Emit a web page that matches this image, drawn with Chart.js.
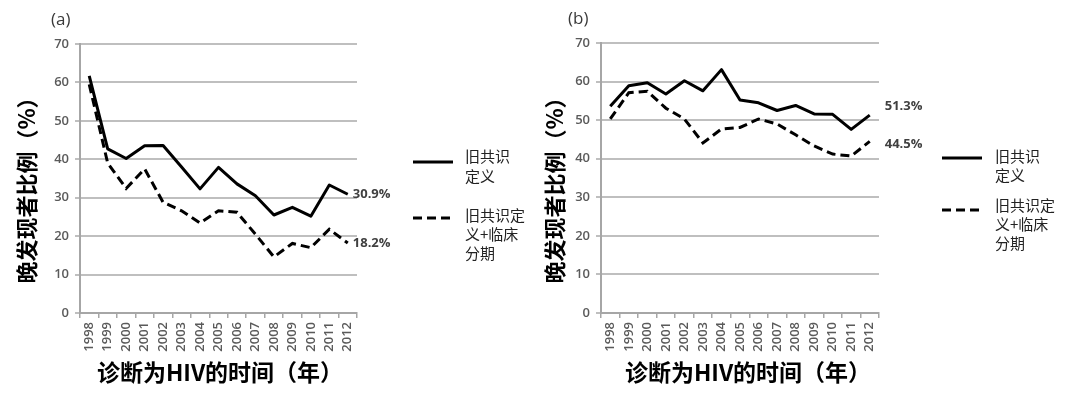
<!DOCTYPE html>
<html><head><meta charset="utf-8">
<script src="https://cdn.jsdelivr.net/npm/chart.js@4.4.0/dist/chart.umd.min.js"></script>
<style>
html,body{margin:0;padding:0;background:#fff;}
#wrap{position:relative;width:1070px;height:396px;overflow:hidden;background:#fff;}
.panel{position:absolute;top:0;width:535px;height:396px;}
canvas{display:block;}
</style></head><body>
<div id="wrap">
<div class="panel" style="left:0"><canvas id="ca" width="535" height="396"></canvas></div>
<div class="panel" style="left:535px"><canvas id="cb" width="535" height="396"></canvas></div>
</div>
<script>
// ---- data ----
const years = ['1998','1999','2000','2001','2002','2003','2004','2005','2006','2007','2008','2009','2010','2011','2012'];
const aOld     = [61.7,42.7,40.2,43.5,43.6,38.0,32.3,37.9,33.6,30.5,25.5,27.5,25.2,33.3,30.9];
const aOldClin = [59.5,39.0,32.4,37.5,28.8,26.6,23.4,26.6,26.2,20.5,14.6,18.1,17.0,21.8,18.2];
const bOld     = [53.6,58.9,59.7,56.8,60.2,57.6,63.1,55.2,54.5,52.5,53.8,51.6,51.5,47.6,51.3];
const bOldClin = [50.3,57.1,57.5,53.1,50.3,44.1,47.7,48.1,50.3,49.0,46.2,43.3,41.2,40.7,44.5];
const yTicks = [0,10,20,30,40,50,60,70];
const endLabelsA = ['30.9%','18.2%'];
const endLabelsB = ['51.3%','44.5%'];
const seriesNames = [['旧共识','定义'],['旧共识定','义+临床','分期']];
const yTitle = '晚发现者比例（%）';
const xTitle = '诊断为HIV的时间（年）';

// ---- decoration plugin ----
const decor = {
  id: 'decor',
  afterDraw(chart, args, o) {
    const ctx = chart.ctx;
    ctx.save();
    // panel tag
    ctx.fillStyle = '#3a3a3a';
    ctx.font = '17px "Open Sans"';
    ctx.textAlign = 'left';
    ctx.textBaseline = 'middle';
    ctx.fillText(o.tag, o.tagX, o.tagY);
    // y title
    ctx.save();
    ctx.translate(o.yTitleX, o.yTitleY);
    ctx.rotate(-Math.PI / 2);
    ctx.fillStyle = '#000';
    ctx.font = 'bold 22px "Noto Sans CJK SC"';
    ctx.textAlign = 'center';
    ctx.textBaseline = 'middle';
    ctx.fillText(yTitle, 0, 0);
    ctx.restore();
    // x title
    ctx.fillStyle = '#000';
    ctx.font = 'bold 23px "Noto Sans CJK SC"';
    ctx.textAlign = 'center';
    ctx.textBaseline = 'middle';
    ctx.fillText(xTitle, o.xTitleX, o.xTitleY);
    // end labels
    ctx.font = 'bold 13px "Open Sans"';
    ctx.fillStyle = '#404040';
    ctx.textAlign = 'left';
    chart.data.datasets.forEach((ds, i) => {
      const meta = chart.getDatasetMeta(i);
      const pt = meta.data[meta.data.length - 1];
      ctx.fillText(o.endLabels[i], pt.x + o.endDx, pt.y + o.endDy[i]);
    });
    // legend
    const L = o.legend;
    ctx.strokeStyle = '#000';
    ctx.lineWidth = 3;
    chart.data.datasets.forEach((ds, i) => {
      ctx.beginPath();
      ctx.setLineDash(ds.borderDash || []);
      ctx.moveTo(L.x1, L.lineY[i]);
      ctx.lineTo(L.x2[i], L.lineY[i]);
      ctx.stroke();
    });
    ctx.setLineDash([]);
    ctx.fillStyle = '#222';
    ctx.font = '15px "Noto Sans CJK SC"';
    ctx.textAlign = 'left';
    ctx.textBaseline = 'middle';
    seriesNames.forEach((lines, i) => {
      lines.forEach((t, j) => ctx.fillText(t, L.tx, L.textY[i] + j * L.lh[i]));
    });
    ctx.restore();
  }
};

function makeChart(id, old, oldClin, cfg) {
  const tickFont = { family: 'Open Sans', size: 13, weight: '600' };
  return new Chart(document.getElementById(id), {
    type: 'line',
    data: {
      labels: years,
      datasets: [
        { data: old, borderColor: '#000', borderWidth: 3, pointRadius: 0, tension: 0, borderJoinStyle: 'round', clip: false },
        { data: oldClin, borderColor: '#000', borderWidth: 3, pointRadius: 0, tension: 0, borderDash: [9, 5], clip: false }
      ]
    },
    options: {
      responsive: false,
      animation: false,
      events: [],
      layout: { padding: cfg.padding },
      plugins: {
        legend: { display: false },
        tooltip: { enabled: false },
        decor: cfg.decor
      },
      scales: {
        x: {
          type: 'category',
          offset: true,
          afterFit: s => { s.height = 83; },
          grid: { display: true, drawOnChartArea: false, drawTicks: true, tickLength: 5, color: '#a6a6a6', lineWidth: 1.5, offset: true },
          border: { display: true, color: '#a6a6a6', width: 2 },
          ticks: { minRotation: 90, maxRotation: 90, autoSkip: false, padding: 4, color: '#5a5a5a', font: tickFont }
        },
        y: {
          min: 0, max: 70,
          afterFit: s => { s.width = cfg.yWidth; },
          afterBuildTicks: s => { s.ticks = yTicks.map(v => ({ value: v })); },
          grid: { color: '#bfbfbf', lineWidth: 2, tickLength: 5, drawTicks: true },
          border: { display: true, color: '#a6a6a6', width: 2 },
          ticks: { padding: 6, color: '#5a5a5a', font: tickFont }
        }
      }
    },
    plugins: [decor]
  });
}

makeChart('ca', aOld, aOldClin, {
  padding: { left: 0, top: 44, right: 178, bottom: 0 },
  yWidth: 80,
  decor: {
    tag: '(a)', tagX: 51, tagY: 20,
    yTitleX: 27, yTitleY: 185,
    xTitleX: 220, xTitleY: 372,
    endLabels: endLabelsA, endDx: 5, endDy: [0, 0],
    legend: { x1: 413, x2: [453, 451], lineY: [162, 218], tx: 465, textY: [156, 215], lh: [20, 19] }
  }
});
makeChart('cb', bOld, bOldClin, {
  padding: { left: 0, top: 43, right: 191, bottom: 0 },
  yWidth: 66,
  decor: {
    tag: '(b)', tagX: 33, tagY: 19,
    yTitleX: 20, yTitleY: 185,
    xTitleX: 213, xTitleY: 372,
    endLabels: endLabelsB, endDx: 15, endDy: [-9, 3],
    legend: { x1: 407, x2: [447, 445], lineY: [158, 210], tx: 460, textY: [156, 205], lh: [19, 19] }
  }
});
</script>
</body></html>
